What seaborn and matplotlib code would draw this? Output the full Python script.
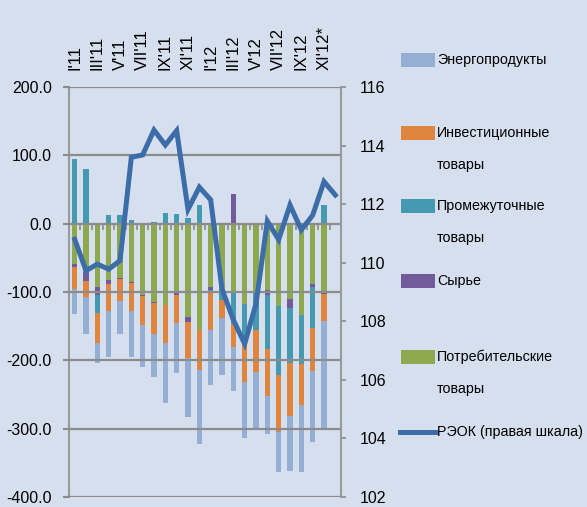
import numpy as np
import pandas as pd
import matplotlib
matplotlib.use("Agg")
import matplotlib.pyplot as plt
import seaborn as sns
from matplotlib.patches import Rectangle
from matplotlib.lines import Line2D

# ---------------- data ----------------
months = ["I'11", "II'11", "III'11", "IV'11", "V'11", "VI'11", "VII'11", "VIII'11",
          "IX'11", "X'11", "XI'11", "XII'11", "I'12", "II'12", "III'12", "IV'12",
          "V'12", "VI'12", "VII'12", "VIII'12", "IX'12", "X'12", "XI'12*", "XII'12"]
bar_months = months[:23]

consumer = [-59, -71, -93, -83, -80, -85, -104, -114, -119, -102, -136, -155,
            -93, -96, -99, -117, -100, -97, -120, -110, -133, -88, -101]
raw = [-4, -13, -11, -5, -1, -2, -2, -2, 0, -2, -8, 0,
       -4, 0, 44, 0, 0, -7, 0, -13, 0, -5, -2]
intermediate = [94, 80, -27, 12, 12, 6, 0, 2, 16, 14, 9, 27,
                -5, -16, -48, -49, -55, -80, -101, -81, -73, -59, 27]
investment = [-32, -24, -43, -40, -32, -41, -43, -46, -56, -42, -53, -59,
              -54, -26, -34, -65, -62, -68, -84, -78, -59, -64, -40]
energy = [-37, -53, -30, -67, -48, -67, -61, -63, -88, -72, -86, -109,
          -80, -83, -64, -83, -82, -56, -59, -80, -99, -104, -158]
reok = [110.8, 109.73, 109.95, 109.78, 110.07, 113.6, 113.68, 114.53, 114.02, 114.51,
        111.82, 112.58, 112.15, 109.1, 108.05, 107.23, 108.6, 111.42, 110.79, 111.97,
        111.12, 111.62, 112.77, 112.31]

# stacking order from zero outward
series_names = ["Потребительские\nтовары", "Сырье", "Промежуточные\nтовары",
                "Инвестиционные\nтовары", "Энергопродукты"]
series_vals = [consumer, raw, intermediate, investment, energy]
series_cols = ["#8DA94F", "#735A9A", "#4599B0", "#E0853D", "#95AED4"]
line_name = "РЭОК (правая шкала)"
line_col = "#3C6DA9"

bg = "#D5DFEE"
grid_c = "#8C8C8C"

plt.rcParams['font.family'] = ['Liberation Sans', 'DejaVu Sans']
plt.rcParams['font.size'] = 11.5

W, H = 587, 507
fig = plt.figure(figsize=(W / 100, H / 100), dpi=100)
fig.patch.set_facecolor(bg)
ax = fig.add_axes([69 / W, 10 / H, 272 / W, 410 / H])
ax.set_facecolor(bg)

arr = np.array(series_vals, dtype=float)
neg_cum = np.cumsum(np.minimum(arr, 0), axis=0)
pos_cum = np.cumsum(np.maximum(arr, 0), axis=0)

# draw outermost series first, inner ones on top
for k in range(len(series_vals) - 1, -1, -1):
    for cum in (neg_cum[k], pos_cum[k]):
        df = pd.DataFrame({"m": bar_months, "v": cum})
        sns.barplot(data=df, x="m", y="v", order=months, color=series_cols[k],
                    saturation=1, width=0.46, errorbar=None, linewidth=0, ax=ax)

ax.set_xlim(-0.5, len(months) - 0.5)
ax.set_ylim(-400, 200)
ax.set_yticks(np.arange(-400, 201, 100))
ax.set_yticklabels([f"{v:.1f}" for v in np.arange(-400, 201, 100)])
ax.set_xlabel("")
ax.set_ylabel("")

# category labels on top, every second month
ax.set_xticks(np.arange(0, len(months), 2))
ax.set_xticklabels(months[::2])
ax.set_xticks(np.arange(0.5, len(months) - 1, 1), minor=True)
ax.tick_params(axis='x', which='major', bottom=False, top=True, labelbottom=False,
               labeltop=True, length=0, rotation=90, pad=12, labelsize=12)
ax.tick_params(axis='x', which='minor', bottom=True, top=False, length=4.5,
               width=1.2, color=grid_c, direction='out')
ax.tick_params(axis='y', length=4.5, width=1.5, color=grid_c, pad=8)
for lab in ax.get_xticklabels():
    lab.set_verticalalignment('bottom')

ax.spines['bottom'].set_position(('data', 0))
ax.spines['bottom'].set_color(grid_c)
ax.spines['bottom'].set_linewidth(1.5)
ax.spines['top'].set_visible(False)
ax.spines['right'].set_visible(False)
ax.spines['left'].set_color("#9A9A9A")
ax.spines['left'].set_linewidth(1.5)
ax.yaxis.grid(True, color=grid_c, linewidth=1.6)
ax.xaxis.grid(False)
ax.set_axisbelow(False)

ax2 = ax.twinx()
ax2.patch.set_visible(False)
sns.lineplot(x=np.arange(len(months)), y=reok, ax=ax2, color=line_col,
             linewidth=3.6, solid_joinstyle='miter')
ax2.set_ylim(102, 116)
ax2.set_yticks(np.arange(102, 117, 2))
ax2.tick_params(axis='y', length=3.5, width=1.2, color=grid_c, pad=10)
ax2.tick_params(axis='x', which='both', bottom=False, top=False,
                labelbottom=False, labeltop=False)
ax2.set_xlim(-0.5, len(months) - 0.5)
ax2.set_xlabel("")
ax2.set_ylabel("")
for s in ['top', 'left', 'bottom']:
    ax2.spines[s].set_visible(False)
ax2.spines['right'].set_color("#9A9A9A")
ax2.spines['right'].set_linewidth(1.5)

# legend (manual, to align handles with the first text line)
leg_fs = 10.3
leg_order = [4, 3, 2, 1, 0]
ys = [60, 133, 206, 281, 357]
for k, yc in zip(leg_order, ys):
    fig.add_artist(Rectangle((401 / W, 1 - (yc + 7) / H), 34 / W, 14 / H,
                             transform=fig.transFigure, facecolor=series_cols[k],
                             edgecolor='none'))
    for j, line in enumerate(series_names[k].split("\n")):
        fig.text(437 / W, 1 - (yc + 32 * j) / H, line, ha='left', va='center',
                 fontsize=leg_fs)
yl = 432
fig.add_artist(Line2D([400 / W, 435 / W], [1 - yl / H, 1 - yl / H],
                      transform=fig.transFigure, color=line_col, linewidth=3.6))
fig.text(437 / W, 1 - yl / H, line_name, ha='left', va='center', fontsize=leg_fs)

fig.savefig("out.png", dpi=100, facecolor=bg)
